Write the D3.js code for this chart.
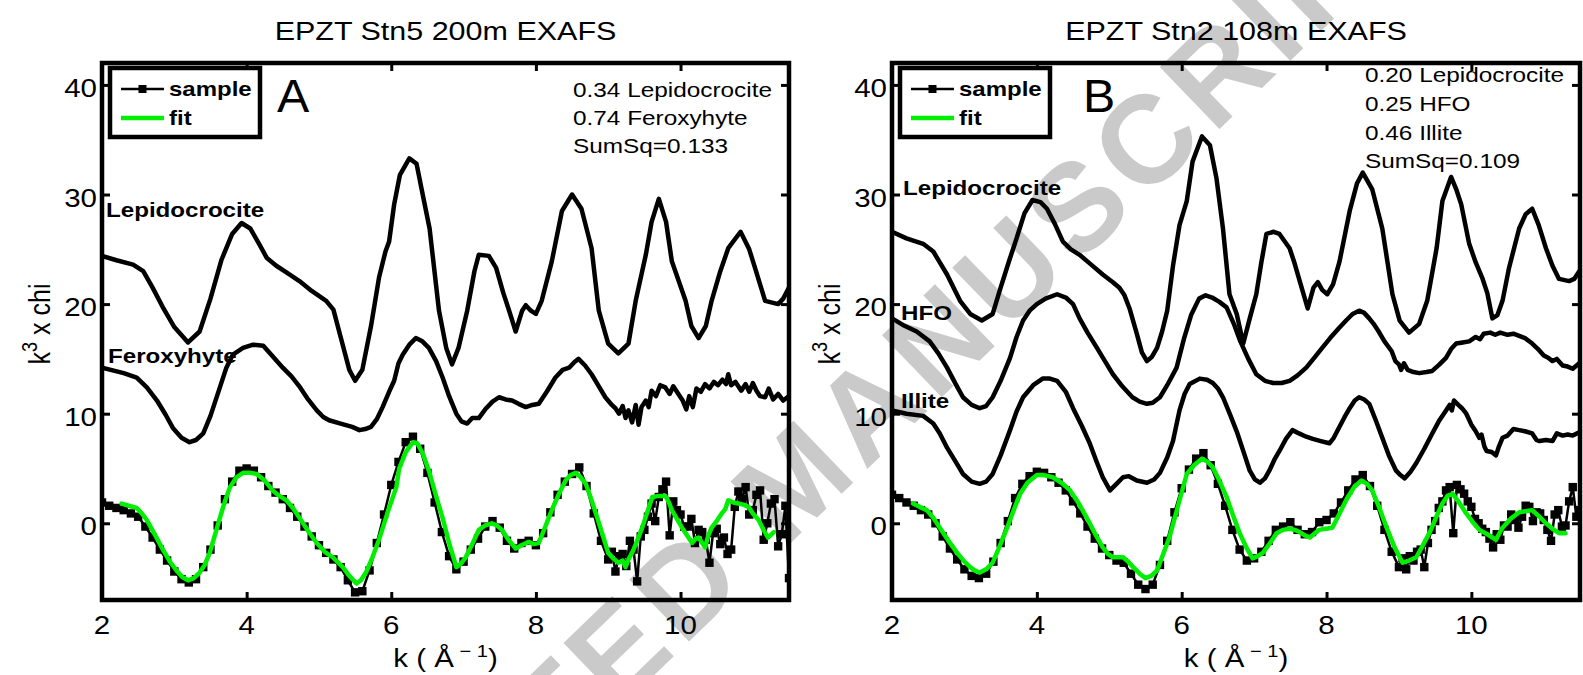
<!DOCTYPE html>
<html><head><meta charset="utf-8">
<script src="https://cdn.jsdelivr.net/npm/d3@7"></script>
<style>body{margin:0;background:#fff;} svg{display:block;} text{font-family:"Liberation Sans",Arial,Helvetica,sans-serif;fill:#000;}</style>
</head><body><svg id="c" width="1583" height="675"></svg>
<script>
// ---------------- data ----------------
const xTicks = [2, 4, 6, 8, 10];
const yTicks = [0, 10, 20, 30, 40];
const titles = ["EPZT Stn5 200m EXAFS", "EPZT Stn2 108m EXAFS"];
const panelLetters = ["A", "B"];
const legendNames = ["sample", "fit"];
const annotA = ["0.34 Lepidocrocite", "0.74 Feroxyhyte", "SumSq=0.133"];
const annotB = ["0.20 Lepidocrocite", "0.25 HFO", "0.46 Illite", "SumSq=0.109"];
const refNamesA = ["Lepidocrocite", "Feroxyhyte"];
const refNamesB = ["Lepidocrocite", "HFO", "Illite"];
const watermark = "ACCEPTED MANUSCRIPT";

const lepA = [[2.0,24.4],[2.2,24.0],[2.43,23.6],[2.57,23.0],[2.7,21.5],[2.85,19.6],[3.0,17.9],[3.19,16.5],[3.35,17.5],[3.5,20.5],[3.65,24.0],[3.8,26.4],[3.93,27.4],[4.05,26.9],[4.18,25.4],[4.28,24.2],[4.41,23.5],[4.55,22.9],[4.73,22.1],[4.9,21.2],[5.1,20.3],[5.2,19.5],[5.3,17.0],[5.42,14.0],[5.5,13.0],[5.6,14.0],[5.72,18.0],[5.83,22.4],[5.92,24.8],[5.97,25.7],[6.04,29.1],[6.12,31.8],[6.25,33.3],[6.35,32.8],[6.45,29.5],[6.53,26.9],[6.66,19.4],[6.76,16.0],[6.84,14.5],[6.93,16.0],[7.05,19.4],[7.15,23.0],[7.21,24.5],[7.35,24.4],[7.45,23.3],[7.55,21.0],[7.63,19.4],[7.72,17.5],[7.81,19.4],[7.86,19.9],[7.93,19.4],[8.0,19.1],[8.08,20.3],[8.22,23.9],[8.36,28.5],[8.5,30.0],[8.63,28.7],[8.77,25.1],[8.87,19.4],[9.0,16.4],[9.14,15.5],[9.28,16.4],[9.38,20.3],[9.52,24.5],[9.6,27.5],[9.7,29.6],[9.8,27.5],[9.88,23.9],[10.07,20.3],[10.15,18.0],[10.25,16.9],[10.35,18.0],[10.43,20.3],[10.55,23.0],[10.66,25.1],[10.83,26.6],[10.95,25.0],[11.03,23.3],[11.17,20.3],[11.35,20.0],[11.42,20.5],[11.5,21.5]];

const ferA = [[2.0,14.2],[2.3,13.7],[2.48,13.3],[2.62,12.4],[2.76,11.2],[2.88,9.9],[2.98,8.7],[3.1,7.8],[3.21,7.4],[3.3,7.6],[3.4,8.2],[3.5,9.8],[3.63,12.4],[3.72,14.2],[3.81,15.4],[3.95,16.0],[4.09,16.3],[4.23,16.2],[4.35,15.3],[4.5,14.2],[4.62,13.4],[4.74,12.4],[4.85,11.3],[4.97,10.3],[5.06,9.7],[5.14,9.4],[5.3,9.1],[5.46,8.8],[5.56,8.5],[5.64,8.6],[5.72,8.8],[5.8,9.5],[5.88,10.6],[5.97,12.0],[6.04,13.0],[6.1,14.6],[6.16,15.4],[6.25,16.3],[6.34,16.9],[6.43,16.6],[6.52,16.0],[6.62,14.8],[6.71,13.3],[6.8,11.6],[6.9,10.0],[6.97,9.3],[7.05,9.1],[7.12,9.6],[7.21,9.6],[7.3,10.4],[7.4,11.1],[7.49,11.5],[7.58,11.3],[7.67,11.2],[7.76,10.9],[7.86,10.6],[7.95,10.8],[8.04,10.9],[8.15,12.0],[8.27,13.3],[8.37,14.0],[8.46,14.2],[8.53,14.7],[8.59,15.0],[8.68,14.4],[8.77,13.6],[8.86,12.6],[8.96,11.5],[9.05,10.8],[9.1,10.5],[9.15,10.0],[9.2,10.7],[9.24,9.6],[9.28,10.3],[9.33,9.2],[9.38,10.8],[9.42,9.0],[9.46,10.6],[9.52,11.2],[9.56,10.6],[9.6,12.1],[9.66,11.6],[9.72,12.6],[9.79,12.4],[9.85,11.8],[9.9,12.5],[9.97,11.8],[10.03,11.2],[10.08,10.4],[10.12,11.6],[10.17,10.6],[10.22,12.3],[10.28,12.0],[10.34,12.7],[10.4,12.3],[10.46,12.9],[10.52,12.6],[10.58,13.1],[10.63,12.7],[10.66,13.6],[10.7,12.6],[10.76,12.9],[10.84,12.1],[10.9,12.7],[10.95,12.0],[11.0,12.8],[11.05,12.1],[11.1,11.6],[11.17,11.5],[11.22,12.3],[11.28,11.3],[11.35,11.8],[11.42,11.2],[11.5,11.6]];

const fitA = [[2.27,1.8],[2.37,1.6],[2.48,1.4],[2.55,0.9],[2.62,0.3],[2.72,-0.9],[2.85,-2.5],[2.95,-3.6],[3.03,-4.3],[3.11,-4.9],[3.19,-5.2],[3.27,-5.0],[3.35,-4.5],[3.42,-3.8],[3.49,-2.7],[3.56,-1.1],[3.63,0.5],[3.7,2.0],[3.77,3.3],[3.86,4.2],[3.95,4.6],[4.05,4.6],[4.14,4.5],[4.25,3.9],[4.36,3.0],[4.45,2.5],[4.55,2.1],[4.64,1.4],[4.73,0.5],[4.85,-0.7],[4.97,-1.8],[5.08,-2.6],[5.19,-3.1],[5.33,-4.0],[5.42,-4.8],[5.52,-5.5],[5.58,-5.2],[5.65,-4.5],[5.74,-3.1],[5.83,-1.5],[5.95,1.0],[6.07,3.3],[6.11,5.0],[6.2,6.5],[6.3,7.4],[6.36,7.3],[6.44,6.3],[6.52,4.8],[6.61,2.7],[6.71,0.5],[6.8,-1.8],[6.9,-4.0],[6.96,-3.7],[7.03,-3.1],[7.12,-1.9],[7.21,-0.6],[7.3,-0.2],[7.39,0.0],[7.46,-0.2],[7.53,-0.6],[7.62,-1.5],[7.72,-2.3],[7.8,-2.0],[7.9,-1.7],[7.97,-1.9],[8.04,-1.8],[8.13,-0.3],[8.22,1.2],[8.32,2.7],[8.41,3.9],[8.48,4.4],[8.55,4.6],[8.62,4.2],[8.69,3.6],[8.76,2.3],[8.83,0.9],[8.92,-1.0],[9.0,-2.7],[9.07,-3.2],[9.14,-3.6],[9.2,-3.4],[9.24,-4.0],[9.28,-3.3],[9.33,-2.7],[9.4,-1.6],[9.47,-0.4],[9.54,1.0],[9.61,2.4],[9.7,2.5],[9.79,2.5],[9.84,1.9],[9.88,1.2],[9.95,0.4],[10.02,-0.4],[10.09,-1.1],[10.16,-1.8],[10.21,-1.4],[10.25,-1.3],[10.3,-1.8],[10.34,-2.2],[10.38,-1.2],[10.43,-0.4],[10.5,0.2],[10.57,0.9],[10.62,1.3],[10.66,2.1],[10.73,1.9],[10.8,1.8],[10.87,1.7],[10.94,1.5],[11.0,0.9],[11.08,0.3],[11.14,-0.5],[11.21,-1.3],[11.29,-0.8]];

const sampleA = [[2.0,1.9],[2.1,1.6],[2.2,1.4],[2.3,1.2],[2.4,0.9],[2.5,0.6],[2.6,-0.3],[2.7,-1.3],[2.8,-2.4],[2.9,-3.4],[3.0,-4.4],[3.1,-5.1],[3.2,-5.4],[3.3,-5.1],[3.4,-4.0],[3.5,-2.4],[3.6,-0.2],[3.7,2.2],[3.8,3.8],[3.9,4.8],[4.0,5.0],[4.1,4.8],[4.2,4.2],[4.3,3.4],[4.4,2.8],[4.5,2.2],[4.6,1.4],[4.7,0.6],[4.8,-0.3],[4.9,-1.2],[5.0,-2.0],[5.1,-2.7],[5.2,-3.3],[5.3,-4.0],[5.4,-5.2],[5.5,-6.3],[5.6,-6.2],[5.7,-4.3],[5.8,-1.8],[5.9,0.8],[6.0,3.5],[6.1,5.6],[6.2,7.4],[6.3,7.9],[6.4,6.8],[6.5,4.6],[6.6,1.9],[6.7,-0.8],[6.8,-3.0],[6.9,-4.2],[7.0,-3.5],[7.1,-2.4],[7.2,-1.4],[7.3,-0.3],[7.4,0.2],[7.5,-0.4],[7.6,-1.6],[7.7,-2.3],[7.8,-1.8],[7.9,-1.6],[8.0,-2.0],[8.1,-0.9],[8.2,1.0],[8.3,2.6],[8.4,3.8],[8.5,4.5],[8.6,5.1],[8.7,3.4],[8.8,0.9],[8.9,-1.6],[9.0,-3.3],[9.05,-2.6],[9.1,-4.4],[9.15,-3.0],[9.2,-2.8],[9.25,-3.9],[9.3,-1.6],[9.35,-2.4],[9.4,-5.3],[9.45,-1.2],[9.5,-0.6],[9.55,0.6],[9.6,1.8],[9.65,0.2],[9.7,2.4],[9.75,3.1],[9.8,3.8],[9.85,-1.1],[9.9,2.0],[9.95,1.2],[10.0,0.8],[10.05,-0.3],[10.1,-0.3],[10.15,0.4],[10.2,-1.8],[10.25,-0.6],[10.3,-0.8],[10.35,-1.5],[10.4,-3.6],[10.45,-0.9],[10.5,-0.5],[10.55,-1.9],[10.6,-1.3],[10.65,-2.8],[10.7,-2.4],[10.75,1.5],[10.8,2.9],[10.85,2.2],[10.9,3.3],[10.95,0.8],[11.0,1.2],[11.05,2.6],[11.1,3.0],[11.15,-1.5],[11.2,0.0],[11.25,1.8],[11.3,2.2],[11.35,-2.1],[11.4,-1.0],[11.45,1.6],[11.5,-5.0]];

const lepB = [[2.0,26.6],[2.2,26.0],[2.43,25.5],[2.57,24.8],[2.66,23.8],[2.76,22.7],[2.94,20.3],[3.08,19.1],[3.24,18.5],[3.39,19.1],[3.5,21.5],[3.62,24.0],[3.72,26.0],[3.83,28.3],[3.94,29.5],[4.05,29.3],[4.14,28.7],[4.25,27.3],[4.36,25.7],[4.47,25.0],[4.59,24.5],[4.75,23.6],[4.91,22.7],[5.05,22.0],[5.14,21.5],[5.21,20.8],[5.28,19.6],[5.38,17.3],[5.45,15.6],[5.52,14.8],[5.59,15.2],[5.66,16.0],[5.73,17.5],[5.8,19.4],[5.88,23.5],[5.97,27.2],[6.07,29.4],[6.15,33.0],[6.28,35.3],[6.39,34.5],[6.48,31.5],[6.57,26.9],[6.66,20.9],[6.76,19.1],[6.85,16.4],[6.94,18.7],[7.03,20.9],[7.1,23.8],[7.17,26.4],[7.27,26.6],[7.35,26.4],[7.49,25.1],[7.56,23.7],[7.63,22.1],[7.74,19.6],[7.82,21.5],[7.88,22.0],[7.94,21.3],[8.01,20.9],[8.09,21.8],[8.18,23.9],[8.32,28.5],[8.42,31.0],[8.5,32.0],[8.63,30.5],[8.77,26.9],[8.91,20.9],[9.01,18.5],[9.14,17.4],[9.28,18.2],[9.39,20.3],[9.45,22.5],[9.52,25.1],[9.6,29.4],[9.72,31.6],[9.79,30.5],[9.86,29.1],[9.97,25.5],[10.06,23.8],[10.15,22.4],[10.22,21.0],[10.29,18.7],[10.36,19.0],[10.43,20.3],[10.52,23.3],[10.66,26.9],[10.75,28.2],[10.84,28.7],[10.93,27.2],[11.03,25.1],[11.12,23.5],[11.21,22.3],[11.35,22.1],[11.42,22.3],[11.49,23.0]];

const hfoB = [[2.0,18.7],[2.15,18.1],[2.34,17.5],[2.52,16.6],[2.64,15.5],[2.76,14.2],[2.88,12.7],[2.98,11.5],[3.1,10.8],[3.21,10.5],[3.3,10.7],[3.39,11.5],[3.5,13.0],[3.63,15.1],[3.72,17.0],[3.81,18.5],[3.9,19.4],[4.0,20.0],[4.12,20.5],[4.28,20.9],[4.4,20.6],[4.5,20.0],[4.59,18.7],[4.7,17.4],[4.83,16.0],[4.94,14.8],[5.05,13.6],[5.18,12.5],[5.32,11.5],[5.42,11.1],[5.52,10.9],[5.6,11.0],[5.7,11.5],[5.8,12.6],[5.93,14.2],[6.03,16.8],[6.13,19.0],[6.24,20.5],[6.33,20.8],[6.42,20.6],[6.52,20.2],[6.62,19.7],[6.72,18.2],[6.81,16.6],[6.92,15.0],[7.03,13.6],[7.15,13.0],[7.26,12.8],[7.38,12.8],[7.49,13.0],[7.6,13.5],[7.72,14.2],[7.83,15.1],[7.94,16.0],[8.05,16.9],[8.17,17.8],[8.27,18.5],[8.36,19.1],[8.45,19.4],[8.52,19.2],[8.59,18.7],[8.65,18.2],[8.72,17.5],[8.8,16.6],[8.9,15.7],[8.95,14.8],[9.0,14.5],[9.03,14.0],[9.07,14.6],[9.12,14.0],[9.2,13.8],[9.28,13.7],[9.38,13.8],[9.46,13.9],[9.56,14.5],[9.65,15.1],[9.72,15.9],[9.79,16.4],[9.88,16.5],[9.97,16.6],[10.06,17.0],[10.12,16.8],[10.17,17.3],[10.26,17.4],[10.33,17.2],[10.4,17.4],[10.5,17.2],[10.58,17.3],[10.66,17.1],[10.74,16.9],[10.84,16.4],[10.92,15.9],[11.0,15.3],[11.06,15.1],[11.12,14.8],[11.18,15.0],[11.26,14.4],[11.33,14.3],[11.4,14.1],[11.49,14.6]];

const illB = [[2.0,10.3],[2.2,10.0],[2.43,9.8],[2.57,9.1],[2.66,8.2],[2.76,6.9],[2.88,5.6],[2.98,4.5],[3.1,3.8],[3.21,3.6],[3.3,3.8],[3.39,4.5],[3.5,6.2],[3.63,8.5],[3.72,10.2],[3.81,11.5],[3.95,12.6],[4.08,13.2],[4.18,13.2],[4.28,13.0],[4.4,12.0],[4.5,10.5],[4.62,8.9],[4.73,7.3],[4.82,5.7],[4.91,4.2],[5.01,3.0],[5.1,3.6],[5.19,4.2],[5.27,4.3],[5.38,3.9],[5.52,3.7],[5.62,4.0],[5.7,4.6],[5.8,6.0],[5.88,7.5],[5.97,10.3],[6.04,11.8],[6.11,12.7],[6.25,13.2],[6.35,13.1],[6.43,12.8],[6.5,12.3],[6.57,11.5],[6.67,9.9],[6.77,8.2],[6.86,6.4],[6.94,4.8],[7.01,4.0],[7.08,3.7],[7.15,4.1],[7.21,4.8],[7.28,5.8],[7.35,6.6],[7.44,7.7],[7.53,8.5],[7.62,8.2],[7.72,7.9],[7.81,7.7],[7.92,7.5],[8.04,7.3],[8.1,7.8],[8.17,8.7],[8.25,9.7],[8.32,10.5],[8.39,11.2],[8.45,11.5],[8.52,11.3],[8.59,10.9],[8.68,9.4],[8.77,7.8],[8.86,6.2],[8.96,4.8],[9.02,4.4],[9.08,4.1],[9.16,4.7],[9.24,5.5],[9.35,6.8],[9.46,8.2],[9.55,9.3],[9.65,10.3],[9.7,10.8],[9.73,10.3],[9.76,11.2],[9.82,10.8],[9.87,10.5],[9.93,10.0],[10.0,9.0],[10.06,8.4],[10.11,7.8],[10.14,8.1],[10.18,7.0],[10.21,6.6],[10.28,6.5],[10.34,6.2],[10.38,7.0],[10.43,7.8],[10.5,8.0],[10.58,8.6],[10.66,8.5],[10.74,8.4],[10.84,8.2],[10.9,7.6],[10.94,7.5],[11.03,7.6],[11.12,7.5],[11.18,8.2],[11.26,8.0],[11.33,8.1],[11.4,8.0],[11.49,8.3]];

const fitB = [[2.29,1.8],[2.38,1.5],[2.48,1.2],[2.57,0.5],[2.66,-0.4],[2.78,-1.6],[2.9,-2.7],[3.0,-3.5],[3.08,-4.0],[3.14,-4.3],[3.21,-4.5],[3.3,-4.2],[3.39,-3.6],[3.48,-2.2],[3.59,-0.4],[3.68,1.2],[3.77,2.7],[3.87,3.7],[4.0,4.4],[4.1,4.4],[4.22,4.2],[4.34,3.7],[4.46,3.0],[4.58,1.8],[4.69,0.5],[4.8,-0.9],[4.91,-2.2],[4.98,-2.8],[5.05,-3.1],[5.12,-3.1],[5.19,-3.1],[5.26,-3.5],[5.33,-4.0],[5.42,-4.6],[5.5,-5.0],[5.58,-4.8],[5.66,-4.3],[5.74,-2.9],[5.83,-1.3],[5.95,1.6],[6.07,4.5],[6.17,5.3],[6.28,5.9],[6.36,5.6],[6.43,5.1],[6.52,3.9],[6.62,2.4],[6.71,0.7],[6.8,-0.9],[6.9,-2.3],[6.98,-3.2],[7.05,-3.0],[7.12,-2.7],[7.22,-1.8],[7.31,-0.9],[7.4,-0.6],[7.49,-0.5],[7.56,-0.6],[7.63,-0.8],[7.7,-1.1],[7.77,-1.3],[7.84,-0.9],[7.9,-0.6],[7.99,-0.5],[8.08,-0.4],[8.18,0.9],[8.27,2.1],[8.38,3.3],[8.48,3.9],[8.56,3.6],[8.63,3.0],[8.73,1.4],[8.83,-0.4],[8.94,-2.2],[9.05,-3.6],[9.14,-3.4],[9.24,-3.1],[9.33,-2.0],[9.42,-0.9],[9.51,0.5],[9.6,1.8],[9.67,2.5],[9.74,2.7],[9.83,1.9],[9.93,0.9],[10.02,0.1],[10.11,-0.6],[10.22,-1.0],[10.34,-1.5],[10.38,-1.0],[10.43,-0.4],[10.54,0.4],[10.66,1.0],[10.75,1.1],[10.84,1.2],[10.94,0.6],[11.03,0.0],[11.12,-0.5],[11.21,-0.9],[11.3,-0.9]];

const sampleB = [[2.0,2.6],[2.1,2.3],[2.2,1.9],[2.3,1.6],[2.4,1.2],[2.5,0.8],[2.6,0.0],[2.7,-1.2],[2.8,-2.3],[2.9,-3.3],[3.0,-4.2],[3.1,-4.8],[3.2,-5.0],[3.3,-4.6],[3.4,-3.5],[3.5,-1.8],[3.6,0.2],[3.7,2.3],[3.8,3.6],[3.9,4.3],[4.0,4.7],[4.1,4.6],[4.2,4.2],[4.3,3.7],[4.4,3.0],[4.5,2.0],[4.6,0.9],[4.7,-0.3],[4.8,-1.4],[4.9,-2.3],[5.0,-2.9],[5.1,-3.4],[5.2,-3.6],[5.3,-4.6],[5.4,-5.6],[5.5,-6.0],[5.6,-5.6],[5.7,-3.8],[5.8,-1.6],[5.9,1.0],[6.0,3.2],[6.1,4.9],[6.2,5.9],[6.3,6.4],[6.4,5.3],[6.5,3.6],[6.6,1.6],[6.7,-0.6],[6.8,-2.4],[6.9,-3.4],[7.0,-3.2],[7.1,-2.6],[7.2,-1.6],[7.3,-0.6],[7.4,-0.3],[7.5,0.1],[7.6,-0.6],[7.7,-1.0],[7.8,-0.8],[7.9,0.1],[8.0,0.3],[8.1,0.9],[8.2,1.9],[8.3,3.0],[8.4,4.0],[8.5,4.4],[8.6,3.4],[8.7,1.6],[8.8,-0.6],[8.9,-2.6],[9.0,-4.0],[9.05,-3.2],[9.1,-4.2],[9.15,-3.0],[9.2,-3.4],[9.25,-2.6],[9.3,-2.4],[9.35,-4.0],[9.4,-1.8],[9.45,-0.6],[9.5,0.2],[9.55,1.4],[9.6,2.0],[9.65,3.0],[9.7,3.3],[9.75,-0.9],[9.8,3.5],[9.85,3.1],[9.9,2.7],[9.95,2.0],[10.0,1.5],[10.05,0.4],[10.1,0.0],[10.15,-0.5],[10.2,-0.8],[10.25,-1.4],[10.3,-2.2],[10.35,-1.0],[10.4,-1.5],[10.45,-0.2],[10.5,-0.3],[10.55,0.8],[10.6,0.3],[10.65,-0.4],[10.7,0.6],[10.75,1.6],[10.8,1.5],[10.85,0.2],[10.9,1.0],[10.95,0.9],[11.0,0.3],[11.05,-0.6],[11.1,-1.6],[11.15,0.8],[11.2,1.2],[11.25,-0.3],[11.3,-0.2],[11.35,2.0],[11.4,3.3],[11.45,0.6],[11.5,1.2]];

// ---------------- layout ----------------
const SX = 1.18;           // horizontal stretch of the original figure's text
const TOP = 63, BOTTOM = 600;
const GREEN = "#00ee00";
const svg = d3.select("#c");

function stext(parent, x, y, str, size, weight, anchor, sx) {
  return parent.append("text")
    .attr("transform", `translate(${x},${y}) scale(${sx || SX},1)`)
    .attr("font-size", size).attr("font-weight", weight || "normal")
    .attr("text-anchor", anchor || "start").text(str);
}

// watermark (behind everything)
svg.append("text")
  .attr("transform", "translate(213,1101) rotate(-44)")
  .attr("font-size", 125).attr("font-weight", "bold")
  .attr("letter-spacing", 8)
  .style("fill", "#cacaca")
  .text(watermark);

const panels = [
  { id: "a", left: 102, right: 789, title: titles[0], letter: panelLetters[0], letterDx: 175, annDx: 471, annY: [97,125,153], annot: annotA,
    refs: [{ name: refNamesA[0], data: lepA, lx: 4, ly: 217 }, { name: refNamesA[1], data: ferA, lx: 6, ly: 363 }],
    fit: fitA, sample: sampleA },
  { id: "b", left: 892, right: 1580, title: titles[1], letter: panelLetters[1], letterDx: 191, annDx: 473, annY: [82,111,140,168], annot: annotB,
    refs: [{ name: refNamesB[0], data: lepB, lx: 11, ly: 195 }, { name: refNamesB[1], data: hfoB, lx: 9, ly: 320 }, { name: refNamesB[2], data: illB, lx: 9, ly: 408 }],
    fit: fitB, sample: sampleB }
];

panels.forEach(p => {
  const x = d3.scaleLinear().domain([2, 11.5]).range([p.left, p.right]);
  const y = d3.scaleLinear().domain([-7, 42]).range([BOTTOM, TOP]);
  const g = svg.append("g");
  const cx = (p.left + p.right) / 2;

  g.append("clipPath").attr("id", "clip-" + p.id).append("rect")
    .attr("x", p.left).attr("y", TOP).attr("width", p.right - p.left).attr("height", BOTTOM - TOP);
  const plot = g.append("g").attr("clip-path", `url(#clip-${p.id})`);
  const line = d3.line().x(d => x(d[0])).y(d => y(d[1]));

  // reference spectra
  p.refs.forEach(r => {
    plot.append("path").attr("d", line(r.data)).attr("fill", "none")
      .attr("stroke", "#000").attr("stroke-width", 4.5).attr("stroke-linejoin", "round").attr("stroke-linecap", "round");
  });
  // sample
  plot.append("path").attr("d", line(p.sample)).attr("fill", "none")
    .attr("stroke", "#000").attr("stroke-width", 2.5).attr("stroke-linejoin", "round");
  plot.selectAll("rect.m").data(p.sample).join("rect").attr("class", "m")
    .attr("x", d => x(d[0]) - 4.2).attr("y", d => y(d[1]) - 4.2)
    .attr("width", 8.4).attr("height", 8.4).attr("fill", "#000");
  // fit
  plot.append("path").attr("d", line(p.fit)).attr("fill", "none")
    .attr("stroke", GREEN).attr("stroke-width", 4.5).attr("stroke-linejoin", "round").attr("stroke-linecap", "round");

  // ticks (inward, all four sides)
  const tk = sel => sel.call(s => s.select(".domain").remove())
    .call(s => s.selectAll("line").attr("stroke", "#000").attr("stroke-width", 3));
  g.append("g").attr("transform", `translate(0,${BOTTOM})`).call(d3.axisBottom(x).tickValues(xTicks).tickSize(-8).tickFormat("")).call(tk);
  g.append("g").attr("transform", `translate(0,${TOP})`).call(d3.axisTop(x).tickValues(xTicks).tickSize(-8).tickFormat("")).call(tk);
  g.append("g").attr("transform", `translate(${p.left},0)`).call(d3.axisLeft(y).tickValues(yTicks).tickSize(-8).tickFormat("")).call(tk);
  g.append("g").attr("transform", `translate(${p.right},0)`).call(d3.axisRight(y).tickValues(yTicks).tickSize(-8).tickFormat("")).call(tk);

  // box
  g.append("rect").attr("x", p.left).attr("y", TOP).attr("width", p.right - p.left).attr("height", BOTTOM - TOP)
    .attr("fill", "none").attr("stroke", "#000").attr("stroke-width", 4.5);

  // tick labels
  xTicks.forEach(t => stext(g, x(t), 634, String(t), 25, "normal", "middle"));
  yTicks.forEach(t => stext(g, p.left - 5, y(t) + 12, String(t), 25, "normal", "end"));

  // curve labels
  p.refs.forEach(r => stext(g, p.left + r.lx, r.ly, r.name, 21, "bold", "start", 1.15));

  // title
  stext(g, cx, 40, p.title, 25, "normal", "middle", 1.22);

  // axis labels
  const xl = g.append("text").attr("transform", `translate(${cx},667) scale(${SX},1)`)
    .attr("font-size", 25).attr("text-anchor", "middle");
  xl.append("tspan").text("k ( Å");
  xl.append("tspan").attr("font-size", 17).attr("dy", -10).text(" − 1");
  xl.append("tspan").attr("dy", 10).text(")");

  const yl = g.append("text").attr("transform", `translate(${p.left - 52},324) rotate(-90) scale(1,1.2)`)
    .attr("font-size", 25).attr("text-anchor", "middle");
  yl.append("tspan").text("k");
  yl.append("tspan").attr("font-size", 18).attr("dy", -11).text("3");
  yl.append("tspan").attr("dy", 11).text(" x chi");

  // panel letter
  stext(g, p.left + p.letterDx, 112, p.letter, 46, "normal", "start", 1.05);

  // annotation
  p.annot.forEach((s, i) => stext(g, p.left + p.annDx, p.annY[i], s, 21, "normal", "start", 1.16));

  // legend
  const lg = g.append("g");
  lg.append("rect").attr("x", p.left + 8).attr("y", 68).attr("width", 150).attr("height", 69)
    .attr("fill", "#fff").attr("stroke", "#000").attr("stroke-width", 4.5);
  lg.append("line").attr("x1", p.left + 19).attr("x2", p.left + 62).attr("y1", 89).attr("y2", 89)
    .attr("stroke", "#000").attr("stroke-width", 2.5);
  lg.append("rect").attr("x", p.left + 36.5).attr("y", 85).attr("width", 8).attr("height", 8).attr("fill", "#000");
  lg.append("line").attr("x1", p.left + 19).attr("x2", p.left + 62).attr("y1", 118).attr("y2", 118)
    .attr("stroke", GREEN).attr("stroke-width", 4.5);
  stext(lg, p.left + 67, 96, legendNames[0], 20, "bold", "start", 1.2);
  stext(lg, p.left + 67, 125, legendNames[1], 20, "bold", "start", 1.2);
});
</script></body></html>
